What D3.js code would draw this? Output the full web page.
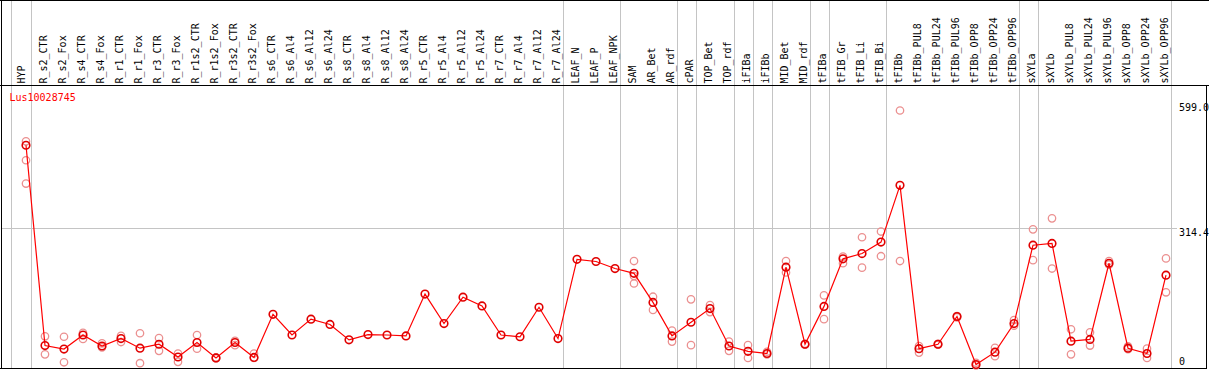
<!DOCTYPE html>
<html><head><meta charset="utf-8">
<script src="https://cdn.jsdelivr.net/npm/d3@7"></script>
<style>
html,body{margin:0;padding:0;background:#fff;}
svg{display:block;}
text{font-family:"DejaVu Sans Mono","Liberation Mono",monospace;font-size:10px;}
</style></head>
<body>
<script>
const categories = ["HYP","R_s2_CTR","R_s2_Fox","R_s4_CTR","R_s4_Fox","R_r1_CTR","R_r1_Fox","R_r3_CTR","R_r3_Fox","R_r1s2_CTR","R_r1s2_Fox","R_r3s2_CTR","R_r3s2_Fox","R_s6_CTR","R_s6_Al4","R_s6_Al12","R_s6_Al24","R_s8_CTR","R_s8_Al4","R_s8_Al12","R_s8_Al24","R_r5_CTR","R_r5_Al4","R_r5_Al12","R_r5_Al24","R_r7_CTR","R_r7_Al4","R_r7_Al12","R_r7_Al24","LEAF_N","LEAF_P","LEAF_NPK","SAM","AR_Bet","AR_rdf","cPAR","TOP_Bet","TOP_rdf","iFIBa","iFIBb","MID_Bet","MID_rdf","tFIBa","tFIB_Gr","tFIB_Li","tFIB_Bi","tFIBb","tFIBb_PUL8","tFIBb_PUL24","tFIBb_PUL96","tFIBb_OPP8","tFIBb_OPP24","tFIBb_OPP96","sXYLa","sXYLb","sXYLb_PUL8","sXYLb_PUL24","sXYLb_PUL96","sXYLb_OPP8","sXYLb_OPP24","sXYLb_OPP96"];

const meanValues = [503,48,40,72,47,64,42,51,22,55,20,55,21,119,72,108,96,61,73,72,70,165,98,158,138,72,68,135,64,244,239,223,212,146,70,101,132,47,35,30,226,51,137,245,257,283,412,41,51,114,5,33,98,276,280,58,62,235,42,30,208];

const replicateValues = [[512,469,416],[69,28],[68,10],[77,63],[53,44],[70,56],[76,8],[65,36],[30,11],[72,41],[21,19],[59,49],[30,20],
[],[],[],[],[],[],[],[],[],[],[],[],[],[],[],[],[],[],[],
[240,206,189],[159,129],[82,57],[153,49],[140,124],[57,36],[49,20],[34,28],[240,214],[52,50],[162,108],[250,235],[294,225],[307,251],[582,240],
[47,32],[52,50],[115,112],[9,3],[43,24],[106,93],[312,242],[337,223],[85,28],[78,48],[240,232],[46,40],[41,20],[246,169]];

const groupSizes = [1,28,3,3,1,2,1,1,2,1,3,7,1,7];
const tickValues = [0, 314.4, 599.0];
const tickLabels = ["0", "314.4", "599.0"];
const geneName = "Lus10028745";

const W = 1209, H = 370;
const svg = d3.select("body").append("svg").attr("width", W).attr("height", H);

const x = d3.scaleLinear().domain([0, categories.length - 1]).range([26, 1166]);
const y = d3.scaleLinear().domain([0, 599]).range([366.7, 103]);
const step = x(1) - x(0);

// group separator lines
const bounds = [x(0) - 15.3];
let acc = 0;
groupSizes.forEach(s => { acc += s; bounds.push(x(acc - 1) + 4.7); });
svg.append("g").selectAll("line").data(bounds).join("line")
  .attr("x1", d => Math.round(d) + 0.5).attr("x2", d => Math.round(d) + 0.5)
  .attr("y1", 0).attr("y2", 369)
  .attr("stroke", "#c4c4c4").attr("stroke-width", 1);

// horizontal gray at middle tick
svg.append("line")
  .attr("x1", 1).attr("x2", 1177)
  .attr("y1", Math.round(y(tickValues[1])) + 0.5).attr("y2", Math.round(y(tickValues[1])) + 0.5)
  .attr("stroke", "#c4c4c4").attr("stroke-width", 1);

// borders
const bd = svg.append("g").attr("stroke", "#000").attr("stroke-width", 1).attr("shape-rendering", "crispEdges");
bd.append("line").attr("x1", 0).attr("x2", W).attr("y1", 0.5).attr("y2", 0.5);
bd.append("line").attr("x1", 0).attr("x2", W).attr("y1", 85.5).attr("y2", 85.5);
bd.append("line").attr("x1", 0).attr("x2", 1207).attr("y1", 368.5).attr("y2", 368.5);
bd.append("line").attr("x1", 1.5).attr("x2", 1.5).attr("y1", 0).attr("y2", 369);
bd.append("line").attr("x1", 1206.5).attr("x2", 1206.5).attr("y1", 85).attr("y2", 369);

// category labels (rotated)
svg.append("g").selectAll("text").data(categories).join("text")
  .attr("transform", (d, i) => `translate(${x(i) + (i === 0 ? -1 : 2.4)},83.5) rotate(-90)`)
  .attr("fill", "#000")
  .text(d => d);

// gene name
svg.append("text").attr("x", 9.5).attr("y", 101).attr("fill", "#ff0000").text(geneName);

// right axis labels
svg.append("g").selectAll("text").data(tickValues).join("text")
  .attr("x", 1179)
  .attr("y", (d, i) => i === 0 ? y(d) - 1.5 : y(d) + 7.5)
  .attr("fill", "#000")
  .text((d, i) => tickLabels[i]);

// replicates
const reps = [];
replicateValues.forEach((arr, i) => arr.forEach(v => reps.push({i, v})));
svg.append("g").selectAll("circle").data(reps).join("circle")
  .attr("cx", d => x(d.i)).attr("cy", d => y(d.v)).attr("r", 3.7)
  .attr("fill", "none").attr("stroke", "#eb9090").attr("stroke-width", 1.3);

// mean line
const line = d3.line().x((d, i) => x(i)).y(d => y(d));
svg.append("path").datum(meanValues).attr("d", line)
  .attr("fill", "none").attr("stroke", "#ff0000").attr("stroke-width", 1.2);

// mean points
svg.append("g").selectAll("circle").data(meanValues).join("circle")
  .attr("cx", (d, i) => x(i)).attr("cy", d => y(d)).attr("r", 3.8)
  .attr("fill", "none").attr("stroke", "#e00000").attr("stroke-width", 1.6);
</script>
</body></html>
